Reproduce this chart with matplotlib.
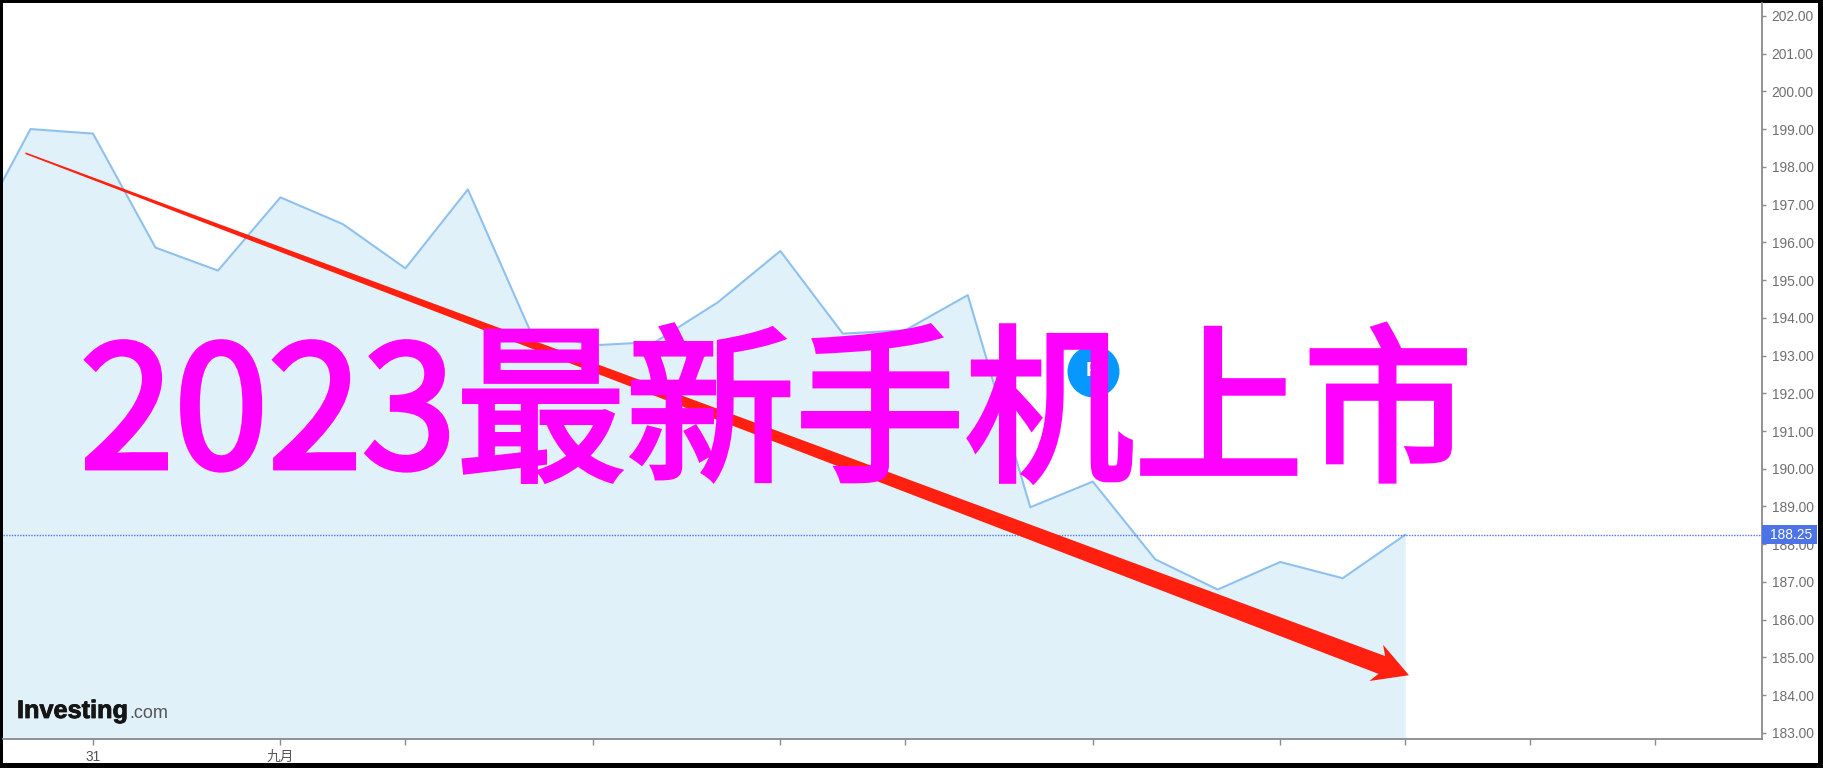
import numpy as np
import matplotlib
matplotlib.use("Agg")
import matplotlib.pyplot as plt
from matplotlib.patches import Polygon, Rectangle
from matplotlib.transforms import IdentityTransform
import matplotlib.patheffects as pe

# Price series, one value per trading day (the first one sits off the left edge)
prices = [195.9, 199.0, 198.88, 195.86, 195.25, 197.19, 196.48, 195.31, 197.4,
          193.64, 193.27, 193.36, 194.41, 195.77, 193.58, 193.67, 194.6,
          188.98, 189.66, 187.6, 186.8, 187.53, 187.1, 188.25]
last_price = 188.25

x_ticks = [2, 5, 7, 10, 13, 15, 18, 21, 23, 25, 27]
x_labels = ["31", "九月", "", "", "", "", "", "", "", "", ""]
y_ticks = list(range(183, 203))

event_x = 18
event_y = 192.6

# Arrow tail and tip, in data units
arrow_start = (0.92, 198.36)
arrow_end = (23.06, 184.53)

W, H = 1824, 768
PINK = "#ff00ff"
RED = "#ff2010"
GREY = "#6f6f6f"
AXIS = "#8a8a8a"
CJK = ["Liberation Sans", "Noto Sans CJK SC", "DejaVu Sans"]

fig = plt.figure(figsize=(W / 100, H / 100), dpi=100, facecolor="black")
fig.add_artist(Rectangle((3 / W, 5 / H), (1818 - 3) / W, (768 - 5 - 3) / H, zorder=-1,
                         transform=fig.transFigure, facecolor="white", edgecolor="none"))

ax = fig.add_axes([3 / W, (H - 739) / H, (1762 - 3) / W, (739 - 3) / H])
ax.patch.set_alpha(0)
ax.set_xlim(0.56, 28.71)
ax.set_ylim(182.84, 202.34)

xs = np.arange(len(prices))
ax.fill_between(xs, prices, 182.84, color="#e0f1fa", linewidth=0, zorder=1)
ax.plot(xs, prices, color="#8fc1ee", linewidth=1.5, zorder=2)

# last price line and its tag
ax.axhline(last_price, color="#4f76e8", linewidth=1, linestyle=(0, (1, 1)), zorder=2)
ax.text(1.0 + 8 / 1759, last_price, "188.25", transform=ax.get_yaxis_transform(), color="white",
        fontsize=9.9, family="Liberation Sans", ha="left", va="center", zorder=6, clip_on=False)
ax.add_patch(Rectangle((1.0, last_price - 0.24), 55 / 1759, 0.5, transform=ax.get_yaxis_transform(),
                       facecolor="#4d74e6", edgecolor="none", zorder=5, clip_on=False))

for s in ["left", "top"]:
    ax.spines[s].set_visible(False)
for s in ["right", "bottom"]:
    ax.spines[s].set_color(AXIS)
    ax.spines[s].set_linewidth(1.3)

ax.yaxis.tick_right()
ax.set_yticks(y_ticks)
ax.set_yticklabels([f"{v:.2f}" for v in y_ticks], family="Liberation Sans", fontsize=9.9, color=GREY)
ax.tick_params(axis="y", length=3, width=1, color=AXIS, pad=4)
ax.set_xticks(x_ticks)
ax.set_xticklabels(x_labels, family=CJK, fontsize=9.9, color="#555555")
ax.tick_params(axis="x", length=4, width=1, color=AXIS, pad=4)

# event marker, partly behind the big title
ax.scatter([event_x], [event_y], s=1400, color="#0698ff", linewidth=0, zorder=3)
ax.text(event_x, event_y, "P", color="white", fontsize=15, fontweight="bold",
        family="Liberation Sans", ha="center", va="center", zorder=3)

# tapered arrow: build the outline in pixels from the data end points
fig.canvas.draw()
p0 = ax.transData.transform(arrow_start)
p1 = ax.transData.transform(arrow_end)
along = (p1 - p0) / np.hypot(*(p1 - p0))
perp = np.array([-along[1], along[0]])
neck = p1 - along * 29
outline = [p0 + perp * 0.8, neck + perp * 9.5, p1 - along * 35 + perp * 19.4,
           p1, p1 - along * 35 - perp * 19.4, neck - perp * 9.5, p0 - perp * 0.8]
ax.add_patch(Polygon(outline, closed=True, facecolor=RED, edgecolor="none",
                     transform=IdentityTransform(), zorder=4, clip_on=False))

# big title over everything, regular weight thickened to sit between regular and bold
title = fig.text(80 / W, (H - 468) / H, "2023最新手机上市", color=PINK, fontsize=122,
                 fontweight="regular", family=["Noto Sans CJK SC", "DejaVu Sans"], ha="left",
                 va="baseline", zorder=10)
title.set_path_effects([pe.Stroke(linewidth=3.5, foreground=PINK, joinstyle="miter"), pe.Normal()])

# logo
logo = fig.text(17 / W, (H - 718) / H, "Investing", color="#151515", fontsize=18.2,
                fontweight="bold", family="Liberation Sans", ha="left", va="baseline", zorder=7)
logo.set_path_effects([pe.withStroke(linewidth=0.6, foreground="#151515")])
fig.text(129 / W, (H - 718) / H, ".com", color="#555555", fontsize=13,
         family="Liberation Sans", ha="left", va="baseline", zorder=7)

fig.savefig("out.png", dpi=100, facecolor=fig.get_facecolor())
